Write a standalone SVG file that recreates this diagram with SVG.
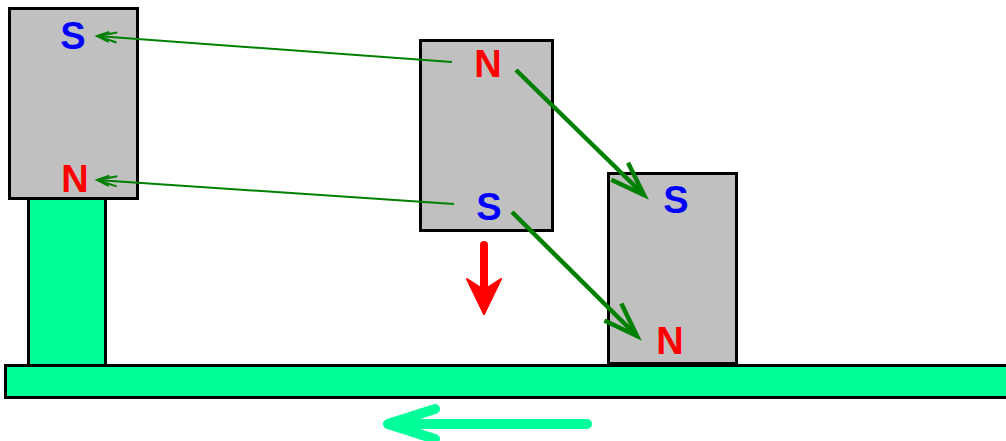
<svg xmlns="http://www.w3.org/2000/svg" width="1006" height="441" viewBox="0 0 1006 441">
<style>
.mag{fill:#C0C0C0;stroke:#000;stroke-width:3}
.grn{fill:#00FF99;stroke:#000;stroke-width:3}
.t{font-family:"Liberation Sans",Arial,sans-serif;font-weight:bold;font-size:38px;text-anchor:middle}
.n{fill:#FF0000}
.s{fill:#0000FF}
.thin{stroke:#008000;stroke-width:2;fill:none}
.thick{stroke:#008000;stroke-width:4.5;fill:none}
</style>
<defs>
<marker id="ah1" markerUnits="userSpaceOnUse" markerWidth="40" markerHeight="30" viewBox="-30 -15 40 30" refX="0" refY="0" orient="auto">
<path d="M-20,-5 L0,0 L-20,5 M-12,-5 L0,0 L-12,5" stroke="#008000" stroke-width="2" fill="none"/>
</marker>
<marker id="ah2" markerUnits="userSpaceOnUse" markerWidth="50" markerHeight="40" viewBox="-40 -20 50 40" refX="0" refY="0" orient="auto">
<path d="M-34,-12 L0,0 L-34,12" stroke="#008000" stroke-width="4.5" fill="none" stroke-linejoin="miter"/>
</marker>
</defs>
<rect width="1006" height="441" fill="#fff"/>
<g id="base"><rect class="grn" x="5.5" y="365.5" width="1010" height="32"/></g>
<g id="stand"><rect class="grn" x="28.5" y="198.5" width="77" height="167"/></g>
<g id="magnet-left">
<rect class="mag" x="9.5" y="8.5" width="128" height="190"/>
<text class="t s" x="73" y="49">S</text>
<text class="t n" x="75" y="192">N</text>
</g>
<g id="magnet-middle">
<rect class="mag" x="420.5" y="40.5" width="132" height="190"/>
<text class="t n" x="488" y="77">N</text>
<text class="t s" x="489" y="220">S</text>
</g>
<g id="magnet-right">
<rect class="mag" x="608.5" y="173.5" width="128" height="190"/>
<text class="t s" x="676" y="213">S</text>
<text class="t n" x="670" y="354">N</text>
</g>
<g id="connectors">
<line class="thin" x1="452" y1="62" x2="97" y2="36" marker-end="url(#ah1)"/>
<line class="thin" x1="454" y1="204" x2="97" y2="180" marker-end="url(#ah1)"/>
<line class="thick" x1="516" y1="70" x2="644" y2="195" marker-end="url(#ah2)"/>
<line class="thick" x1="512" y1="212" x2="637" y2="336" marker-end="url(#ah2)"/>
<g id="arrow-down">
<line x1="484" y1="245" x2="484" y2="295" stroke="#FF0000" stroke-width="8" stroke-linecap="round"/>
<path d="M467,279 L484,314 L501,279 L484,290 Z" fill="#FF0000" stroke="#FF0000" stroke-width="2" stroke-linejoin="round"/>
</g>
<g id="arrow-left">
<line x1="587" y1="424" x2="395" y2="424" stroke="#00FF99" stroke-width="10" stroke-linecap="round"/>
<path d="M435,409 L388,424 L435,439" stroke="#00FF99" stroke-width="10" fill="none" stroke-linecap="round" stroke-linejoin="round"/>
</g>
</g>
</svg>
